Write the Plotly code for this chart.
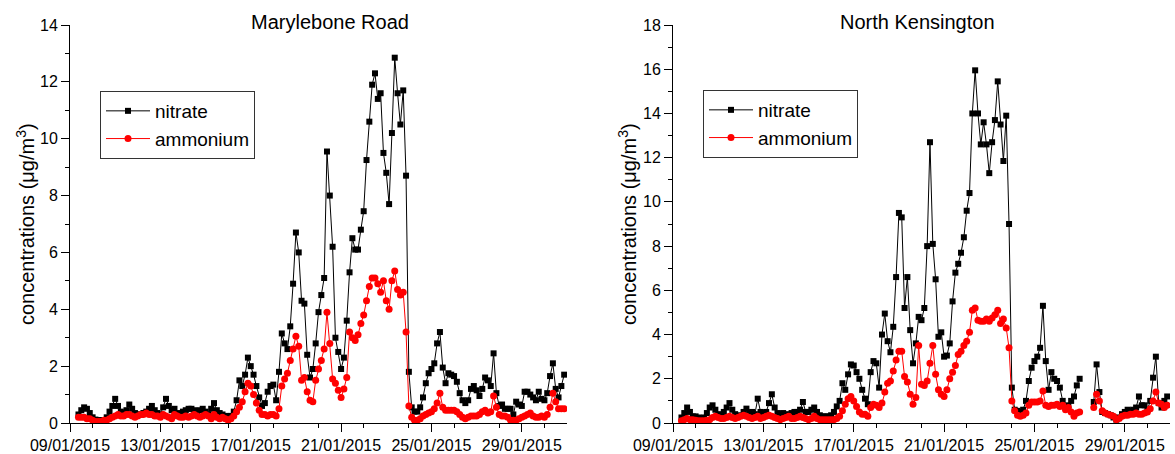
import pandas as pd
import plotly.graph_objects as go

# 3-hourly samples starting 09/01/2015 00:00 (8 values per day, 09/01 .. 30/01)
start_time = "2015-01-09 00:00"
step = "3h"

mr_nitrate = [
    None, None, None, 0.3, 0.45, 0.55, 0.5, 0.35,      # 09
    0.2, 0.12, 0.1, 0.1, 0.1, 0.2, 0.4, 0.6,           # 10
    0.85, 0.6, 0.4, 0.35, 0.45, 0.65, 0.5, 0.35,       # 11
    0.3, 0.3, 0.35, 0.4, 0.5, 0.6, 0.45, 0.35,         # 12
    0.3, 0.55, 0.85, 0.6, 0.45, 0.5, 0.35, 0.3,        # 13
    0.4, 0.45, 0.5, 0.5, 0.45, 0.35, 0.45, 0.5,        # 14
    0.4, 0.3, 0.5, 0.7, 0.45, 0.35, 0.3, 0.25,         # 15
    0.2, 0.25, 0.4, 0.8, 1.5, 1.3, 1.7, 2.3,           # 16
    2.0, 1.7, 1.3, 0.9, 0.6, 0.7, 1.1, 1.3,            # 17
    1.35, 0.8, 1.8, 3.15, 2.8, 2.6, 3.4, 4.9,          # 18
    6.7, 6.0, 4.3, 4.2, 2.4, 1.6, 1.9, 2.8,            # 19
    3.9, 4.5, 5.1, 9.55, 8.0, 6.2, 3.0, 2.5,           # 20
    1.9, 2.3, 3.6, 5.3, 6.5, 6.1, 6.1, 6.8,            # 21
    7.45, 9.25, 10.6, 11.9, 12.3, 11.4, 11.6, 9.5,     # 22
    8.8, 7.7, 10.2, 12.85, 11.6, 10.5, 11.7, 8.7,      # 23
    1.8, 0.55, 0.4, 0.4, 0.55, 0.9, 1.4, 1.75,         # 24
    1.9, 2.1, 2.8, 3.2, 1.95, 1.4, 1.75, 1.7,          # 25
    1.65, 1.45, 1.05, 0.8, 0.7, 0.8, 1.2, 1.3,         # 26
    1.15, 0.95, 1.2, 1.6, 1.5, 1.3, 2.45, 1.05,        # 27
    0.6, 0.65, 0.5, 0.5, 0.5, 0.3, 0.75, 0.65,         # 28
    0.6, 1.1, 1.1, 1.0, 0.9, 0.8, 1.1, 0.85,           # 29
    0.8, 1.05, 1.65, 2.1, 1.2, 0.9, 1.3, 1.7,          # 30
]

mr_ammonium = [
    None, None, None, 0.2, 0.2, 0.2, 0.15, 0.15,       # 09
    0.1, 0.05, 0.05, 0.05, 0.1, 0.1, 0.15, 0.2,        # 10
    0.25, 0.3, 0.25, 0.25, 0.3, 0.3, 0.25, 0.2,        # 11
    0.25, 0.3, 0.3, 0.35, 0.3, 0.3, 0.25, 0.25,        # 12
    0.2, 0.3, 0.25, 0.2, 0.15, 0.3, 0.25, 0.2,         # 13
    0.2, 0.25, 0.2, 0.25, 0.3, 0.25, 0.2, 0.25,        # 14
    0.3, 0.25, 0.15, 0.3, 0.2, 0.15, 0.2, 0.15,        # 15
    0.1, 0.15, 0.25, 0.4, 0.55, 0.75, 1.1, 1.4,        # 16
    1.3, 1.0, 0.7, 0.45, 0.3, 0.3, 0.25, 0.3,          # 17
    0.3, 0.25, 0.5, 1.3, 1.55, 1.75, 2.2, 2.6,         # 18
    3.05, 2.7, 1.5, 1.6, 1.1, 0.8, 0.75, 1.5,          # 19
    1.9, 2.2, 2.6, 3.9, 2.8, 1.55, 1.4, 1.15,          # 20
    0.9, 1.2, 1.6, 3.2, 3.0, 2.9, 3.1, 3.5,            # 21
    3.8, 4.3, 4.8, 5.1, 5.1, 4.9, 4.6, 5.0,            # 22
    4.3, 4.0, 5.0, 5.35, 4.7, 4.5, 4.6, 3.2,           # 23
    0.6, 0.2, 0.1, 0.1, 0.15, 0.25, 0.3, 0.35,         # 24
    0.4, 0.5, 0.7, 1.05, 0.55, 0.45, 0.45, 0.45,       # 25
    0.45, 0.4, 0.3, 0.2, 0.15, 0.2, 0.25, 0.25,        # 26
    0.25, 0.3, 0.4, 0.45, 0.35, 0.4, 0.95, 0.55,       # 27
    0.3, 0.25, 0.25, 0.2, 0.1, 0.1, 0.1, 0.15,         # 28
    0.2, 0.25, 0.3, 0.35, 0.25, 0.2, 0.2, 0.25,        # 29
    0.2, 0.3, 0.55, 1.05, 0.75, 0.5, 0.5, 0.5,         # 30
]

nk_nitrate = [
    None, None, None, 0.25, 0.45, 0.7, 0.5, 0.3,       # 09
    0.3, 0.25, 0.2, 0.25, 0.45, 0.7, 0.8, 0.6,         # 10
    0.4, 0.35, 0.5, 0.7, 0.9, 0.6, 0.4, 0.3,           # 11
    0.35, 0.5, 0.65, 0.45, 0.5, 0.4, 1.1, 0.5,         # 12
    0.45, 0.5, 0.9, 1.3, 0.7, 0.45, 0.4, 0.45,         # 13
    0.35, 0.4, 0.45, 0.5, 0.5, 0.6, 0.95, 0.5,         # 14
    0.5, 0.6, 0.7, 0.5, 0.35, 0.3, 0.3, 0.3,           # 15
    0.35, 0.5, 0.75, 1.0, 1.8, 1.5, 2.2, 2.65,         # 16
    2.6, 2.3, 2.0, 1.5, 1.1, 0.85, 2.3, 2.8,           # 17
    2.7, 1.6, 4.0, 4.95, 3.7, 3.2, 4.35, 6.6,          # 18
    9.5, 9.3, 5.2, 6.6, 4.2, 2.7, 3.6, 4.8,            # 19
    4.65, 5.2, 8.0, 12.7, 8.1, 6.5, 3.9, 4.1,          # 20
    3.0, 3.05, 3.6, 5.5, 6.8, 7.2, 7.7, 8.4,           # 21
    9.6, 10.4, 14.0, 15.95, 14.0, 12.6, 13.6, 12.6,    # 22
    11.3, 12.7, 13.7, 15.45, 13.5, 11.85, 13.9, 9.0,   # 23
    1.6, 0.6, 0.55, 0.5, 0.6, 1.0, 1.9, 2.5,           # 24
    2.8, 3.0, 3.4, 5.3, 2.8, 1.5, 2.3, 2.0,            # 25
    1.9, 1.6, 1.0, 0.7, 0.8, 1.0, 1.2, 1.7,            # 26
    2.0, None, None, None, None, 0.95, 2.65, 1.4,      # 27
    0.5, 0.45, 0.4, 0.35, 0.25, 0.15, 0.25, 0.4,       # 28
    0.5, 0.6, 0.55, 0.6, 0.7, 1.2, 0.8, 0.8,           # 29
    0.6, 1.0, 2.05, 3.0, 0.9, 0.7, 1.0, 1.2,           # 30
]

nk_ammonium = [
    None, None, None, 0.1, 0.15, 0.2, 0.15, 0.15,      # 09
    0.12, 0.1, 0.1, 0.1, 0.12, 0.15, 0.25, 0.3,        # 10
    0.25, 0.2, 0.2, 0.25, 0.3, 0.25, 0.2, 0.25,        # 11
    0.3, 0.35, 0.3, 0.25, 0.2, 0.25, 0.3, 0.2,         # 12
    0.25, 0.3, 0.35, 0.3, 0.25, 0.2, 0.15, 0.2,        # 13
    0.25, 0.3, 0.2, 0.2, 0.25, 0.3, 0.25, 0.2,         # 14
    0.15, 0.2, 0.3, 0.2, 0.15, 0.15, 0.15, 0.15,       # 15
    0.15, 0.15, 0.2, 0.3, 0.55, 0.85, 1.1, 1.2,        # 16
    1.0, 0.75, 0.5, 0.4, 0.4, 0.3, 0.7, 0.85,          # 17
    0.8, 0.7, 0.9, 1.4, 1.8, 1.9, 2.35, 2.85,          # 18
    3.25, 3.25, 2.1, 1.85, 1.3, 0.85, 1.15, 3.5,       # 19
    1.75, 1.7, 1.9, 2.7, 3.5, 2.2, 1.5, 1.3,           # 20
    1.2, 1.5, 2.0, 2.3, 2.6, 3.1, 3.25, 3.5,           # 21
    3.7, 4.1, 5.1, 5.2, 4.65, 4.6, 4.6, 4.7,           # 22
    4.6, 4.75, 4.9, 5.1, 4.5, 4.7, 4.3, 3.4,           # 23
    1.0, 0.55, 0.35, 0.3, 0.35, 0.45, 0.8, 0.95,       # 24
    0.95, 0.95, 1.0, 1.45, 0.8, 0.75, 0.8, 0.8,        # 25
    0.85, 0.75, 0.8, 0.6, 0.7, 0.5, 0.3, 0.45,         # 26
    0.5, None, None, None, None, 0.7, 1.3, 1.0,        # 27
    0.55, 0.45, 0.4, 0.35, 0.3, 0.15, 0.2, 0.3,        # 28
    0.35, 0.35, 0.4, 0.4, 0.45, 0.4, 0.4, 0.45,        # 29
    0.5, 0.65, 1.0, 1.4, 0.9, 0.85, 0.7, 0.8,          # 30
]

site_titles = ["Marylebone Road", "North Kensington"]
series_names = ["nitrate", "ammonium"]
y_max = [14, 18]

times = pd.date_range(start_time, periods=len(mr_nitrate), freq=step)

W, H = 1175, 454
FONT = "Liberation Sans, Arial, sans-serif"
DAY = 86400000

def fx(p):
    return p / W

def fy(p):
    return 1 - p / H

fig = go.Figure()

panels = [
    (mr_nitrate, mr_ammonium, "x", "y", "legend"),
    (nk_nitrate, nk_ammonium, "x2", "y2", "legend2"),
]
for nit, amm, xa, ya, lg in panels:
    fig.add_trace(go.Scatter(
        x=times, y=nit, name=series_names[0], mode="lines+markers",
        line=dict(color="black", width=1),
        marker=dict(symbol="square", size=6, color="black"),
        xaxis=xa, yaxis=ya, legend=lg,
    ))
    fig.add_trace(go.Scatter(
        x=times, y=amm, name=series_names[1], mode="lines+markers",
        line=dict(color="#ff0000", width=1),
        marker=dict(symbol="circle", size=7, color="#ff0000"),
        xaxis=xa, yaxis=ya, legend=lg,
    ))

xcommon = dict(
    type="date", range=["2015-01-09", "2015-01-31"],
    tick0="2015-01-09", dtick=4 * DAY, tickformat="%d/%m/%Y",
    ticks="outside", ticklen=8, tickwidth=1, tickcolor="black",
    showline=True, linecolor="black", linewidth=1,
    showgrid=False, zeroline=False, automargin=False,
    tickfont=dict(size=16, color="black", family=FONT),
    minor=dict(dtick=2 * DAY, ticks="outside", ticklen=4, tickcolor="black", showgrid=False),
)

def ycommon(top):
    return dict(
        range=[0, top], dtick=2, tick0=0,
        ticks="outside", ticklen=8, tickwidth=1, tickcolor="black",
        showline=True, linecolor="black", linewidth=1,
        showgrid=False, zeroline=False, automargin=False,
        tickfont=dict(size=16, color="black", family=FONT),
        minor=dict(dtick=1, ticks="outside", ticklen=4, tickcolor="black", showgrid=False),
    )

ydom = [fy(423), fy(25)]

legend_common = dict(
    xanchor="left", yanchor="top",
    bordercolor="#333", borderwidth=1, bgcolor="white",
    font=dict(size=19, color="black", family=FONT),
    tracegroupgap=0, itemwidth=44,
)

fig.update_layout(
    width=W, height=H,
    margin=dict(l=0, r=0, t=0, b=0, autoexpand=False),
    paper_bgcolor="white", plot_bgcolor="white",
    font=dict(family=FONT, color="black"),
    xaxis=dict(domain=[fx(70), fx(567)], anchor="y", **xcommon),
    yaxis=dict(domain=ydom, anchor="x", **ycommon(y_max[0])),
    xaxis2=dict(domain=[fx(673), fx(1170)], anchor="y2", **xcommon),
    yaxis2=dict(domain=ydom, anchor="x2", **ycommon(y_max[1])),
    legend=dict(x=fx(100), y=fy(91), **legend_common),
    legend2=dict(x=fx(703), y=fy(90), **legend_common),
    showlegend=True,
)

ytitle = "concentrations (\u03bcg/m<sup>3</sup>)"
annots = [
    dict(x=fx(330), y=fy(22), text=site_titles[0]),
    dict(x=fx(917), y=fy(22), text=site_titles[1]),
]
for a in annots:
    fig.add_annotation(xref="paper", yref="paper", x=a["x"], y=a["y"], text=a["text"],
                       showarrow=False, xanchor="center", yanchor="middle",
                       font=dict(size=20, color="black", family=FONT))
for xp in (25, 627):
    fig.add_annotation(xref="paper", yref="paper", x=fx(xp), y=fy(224), text=ytitle,
                       textangle=-90, showarrow=False, xanchor="center", yanchor="middle",
                       font=dict(size=20, color="black", family=FONT))

fig.write_html("out.html")
